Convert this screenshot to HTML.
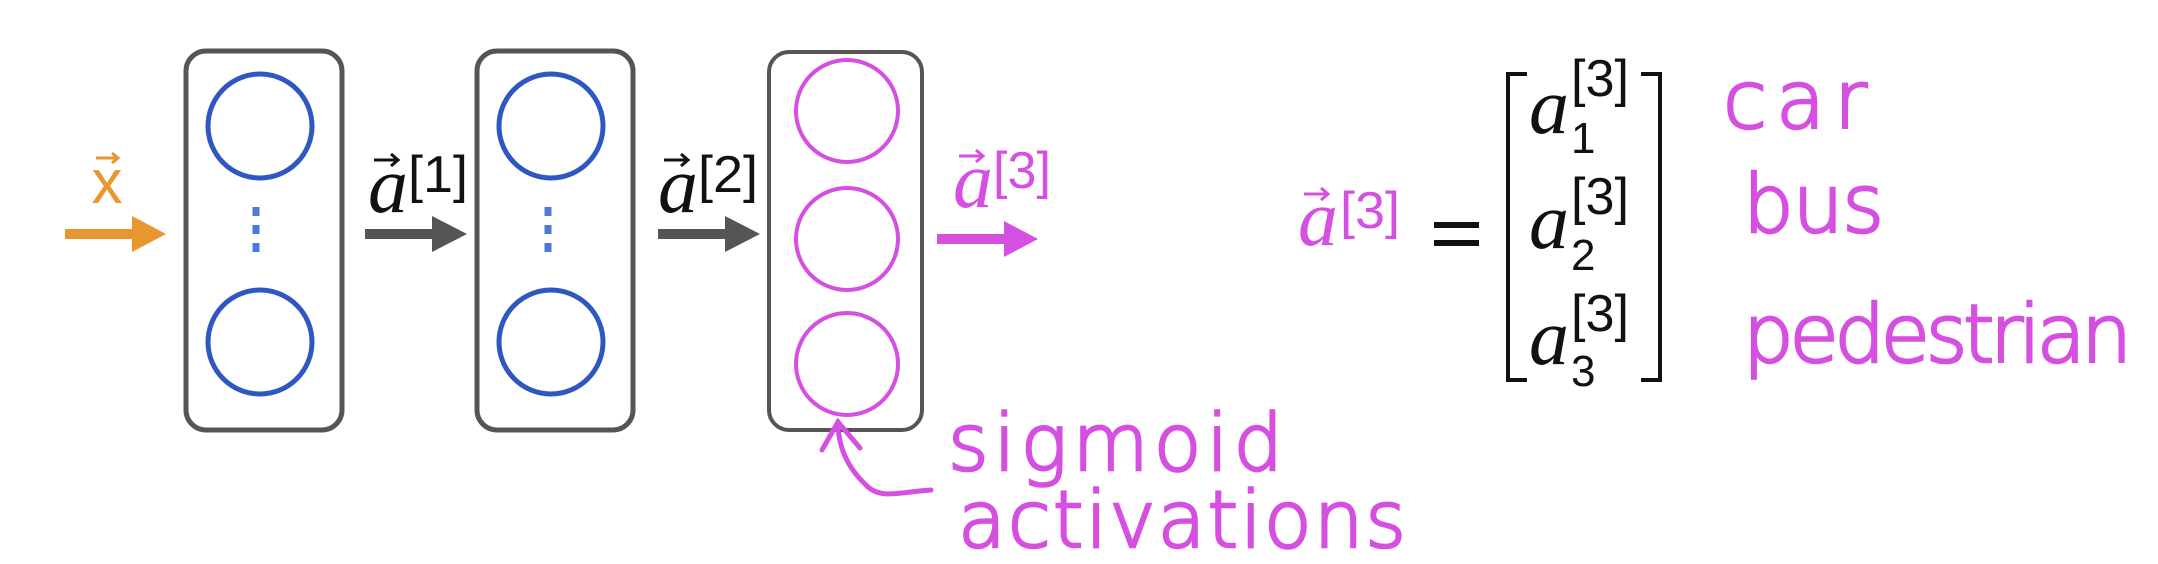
<!DOCTYPE html>
<html><head><meta charset="utf-8"><style>
html,body{margin:0;padding:0;background:#fff;}
svg{display:block;}
.hw{font-family:"DejaVu Sans","Liberation Sans",sans-serif;font-weight:200;fill:#d54fe0;stroke:#d54fe0;stroke-width:2.5;}
.m{font-family:"Liberation Serif",serif;font-style:italic;}
.s{font-family:"Liberation Sans",sans-serif;}
</style></head><body>
<svg width="2158" height="564" viewBox="0 0 2158 564">
<g>
<rect x="65" y="229" width="72" height="10" fill="#e8962e"/>
<polygon points="132,216 166,234 132,252" fill="#e8962e"/>
</g>
<g>
<text x="107" y="203" text-anchor="middle" class="s" font-size="62" fill="#e8962e">x</text>
<line x1="96" y1="158" x2="118" y2="158" stroke="#e8962e" stroke-width="3"/>
<polyline points="112,153 118,158 112,163" fill="none" stroke="#e8962e" stroke-width="3"/>
</g>
<g>
<rect x="186" y="51" width="156" height="379" rx="20" fill="none" stroke="#555" stroke-width="5"/>
<circle cx="260" cy="126" r="52" fill="none" stroke="#2f57c2" stroke-width="5"/>
<circle cx="260" cy="342" r="52" fill="none" stroke="#2f57c2" stroke-width="5"/>
<line x1="256" y1="207" x2="256" y2="260" stroke="#4d7ad8" stroke-width="7" stroke-dasharray="9,9"/>
</g>
<g>
<rect x="365" y="229" width="72" height="10" fill="#555"/>
<polygon points="432,216 467,234 432,252" fill="#555"/>
<text x="368" y="212" class="m" font-size="80" fill="#111">a</text>
<line x1="374" y1="160" x2="398" y2="160" stroke="#111" stroke-width="3"/>
<polyline points="391,154 398,160 391,166" fill="none" stroke="#111" stroke-width="3"/>
<text x="408" y="192" class="s" font-size="52" fill="#111" textLength="60" lengthAdjust="spacingAndGlyphs">[1]</text>
</g>
<g>
<rect x="477" y="51" width="156" height="379" rx="20" fill="none" stroke="#555" stroke-width="5"/>
<circle cx="551" cy="126" r="52" fill="none" stroke="#2f57c2" stroke-width="5"/>
<circle cx="551" cy="342" r="52" fill="none" stroke="#2f57c2" stroke-width="5"/>
<line x1="548" y1="207" x2="548" y2="260" stroke="#4d7ad8" stroke-width="7" stroke-dasharray="9,9"/>
</g>
<g>
<rect x="658" y="229" width="72" height="10" fill="#555"/>
<polygon points="725,216 760,234 725,252" fill="#555"/>
<text x="658" y="212" class="m" font-size="80" fill="#111">a</text>
<line x1="664" y1="160" x2="688" y2="160" stroke="#111" stroke-width="3"/>
<polyline points="681,154 688,160 681,166" fill="none" stroke="#111" stroke-width="3"/>
<text x="698" y="192" class="s" font-size="52" fill="#111" textLength="60" lengthAdjust="spacingAndGlyphs">[2]</text>
</g>
<g>
<rect x="769" y="52" width="153" height="378" rx="20" fill="none" stroke="#555" stroke-width="4"/>
<circle cx="847" cy="111" r="51" fill="none" stroke="#d54fe0" stroke-width="4"/>
<circle cx="847" cy="239" r="51" fill="none" stroke="#d54fe0" stroke-width="4"/>
<circle cx="847" cy="364" r="51" fill="none" stroke="#d54fe0" stroke-width="4"/>
</g>
<g>
<rect x="937" y="234" width="72" height="10" fill="#d54fe0"/>
<polygon points="1004,221 1038,239 1004,257" fill="#d54fe0"/>
<text x="953" y="207" class="m" font-size="80" fill="#d54fe0">a</text>
<line x1="959" y1="156" x2="983" y2="156" stroke="#d54fe0" stroke-width="3"/>
<polyline points="976,150 983,156 976,162" fill="none" stroke="#d54fe0" stroke-width="3"/>
<text x="993" y="188" class="s" font-size="52" fill="#d54fe0" textLength="58" lengthAdjust="spacingAndGlyphs">[3]</text>
</g>
<g fill="none" stroke="#d54fe0" stroke-width="5" stroke-linecap="round">
<path d="M931,490 C900,492 880,500 866,485 C850,470 838,450 838,422"/>
<path d="M822,450 L838,422 L860,448"/>
</g>
<text x="948" y="470" class="hw" font-size="78" textLength="335" lengthAdjust="spacing">sigmoid</text>
<text x="958" y="547" class="hw" font-size="78" textLength="448" lengthAdjust="spacing">activations</text>
<g>
<text x="1298" y="245" class="m" font-size="80" fill="#d54fe0">a</text>
<line x1="1304" y1="194" x2="1328" y2="194" stroke="#d54fe0" stroke-width="3"/>
<polyline points="1321,188 1328,194 1321,200" fill="none" stroke="#d54fe0" stroke-width="3"/>
<text x="1340" y="228" class="s" font-size="52" fill="#d54fe0" textLength="60" lengthAdjust="spacingAndGlyphs">[3]</text>
<rect x="1434" y="222" width="45" height="6" fill="#111"/>
<rect x="1434" y="240" width="45" height="6" fill="#111"/>
</g>
<g fill="#111">
<polyline points="1527,74 1508,74 1508,380 1527,380" fill="none" stroke="#111" stroke-width="4"/>
<polyline points="1641,74 1660,74 1660,380 1641,380" fill="none" stroke="#111" stroke-width="4"/>
<text x="1529" y="133" class="m" font-size="80">a</text>
<text x="1571" y="153" class="s" font-size="44">1</text>
<text x="1571" y="96" class="s" font-size="52" textLength="58" lengthAdjust="spacingAndGlyphs">[3]</text>
<text x="1529" y="248" class="m" font-size="80">a</text>
<text x="1571" y="270" class="s" font-size="44">2</text>
<text x="1571" y="214" class="s" font-size="52" textLength="58" lengthAdjust="spacingAndGlyphs">[3]</text>
<text x="1529" y="364" class="m" font-size="80">a</text>
<text x="1571" y="386" class="s" font-size="44">3</text>
<text x="1571" y="331" class="s" font-size="52" textLength="58" lengthAdjust="spacingAndGlyphs">[3]</text>
</g>
<text x="1723" y="128" class="hw" font-size="80" textLength="144" lengthAdjust="spacing">car</text>
<text x="1743" y="232" class="hw" font-size="80" textLength="141" lengthAdjust="spacing">bus</text>
<text x="1743" y="362" class="hw" font-size="80" textLength="389" lengthAdjust="spacing">pedestrian</text>
</svg>
</body></html>
